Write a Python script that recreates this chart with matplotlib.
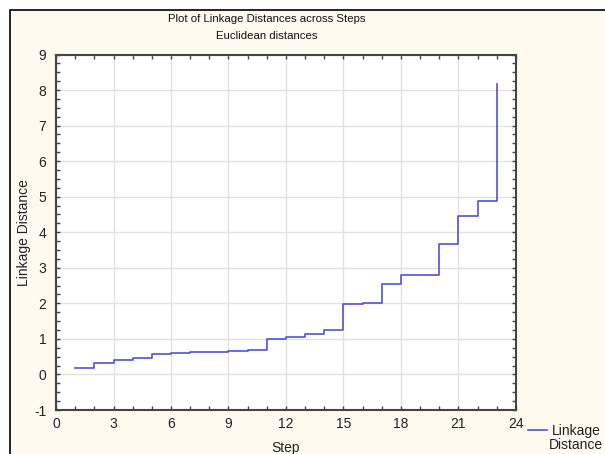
import matplotlib
matplotlib.use('Agg')
import matplotlib.pyplot as plt
from matplotlib.patches import Rectangle
from matplotlib.ticker import MultipleLocator

plt.rcParams['font.family'] = ['Liberation Sans', 'DejaVu Sans']
plt.rcParams['axes.unicode_minus'] = False

# Linkage distance at each amalgamation step
steps = list(range(1, 24))
distances = [0.17, 0.32, 0.41, 0.45, 0.57, 0.60, 0.63, 0.63, 0.66, 0.70,
             0.99, 1.06, 1.13, 1.25, 1.98, 2.00, 2.54, 2.81, 2.81, 3.66,
             4.45, 4.88, 8.16]
x_ticks = [0, 3, 6, 9, 12, 15, 18, 21, 24]
y_ticks = [-1, 0, 1, 2, 3, 4, 5, 6, 7, 8, 9]

fig = plt.figure(figsize=(6.05, 4.54), dpi=100)
fig.patch.set_facecolor('white')

# cream panel with a black frame (cut off at right/bottom)
bg = Rectangle((10 / 605, -0.1), 1.2, 1 - 10 / 454 + 0.1, transform=fig.transFigure,
               facecolor='#fffaf0', edgecolor='black', linewidth=1.2, zorder=-10)
fig.patches.append(bg)

ax = fig.add_axes([56 / 605, 1 - 410 / 454, 460 / 605, 355.5 / 454])
ax.set_facecolor('white')

ax.plot(steps, distances, drawstyle='steps-post', color='#5252d6', linewidth=1.2)

ax.set_xlim(0, 24)
ax.set_ylim(-1, 9)
ax.set_xticks(x_ticks)
ax.set_yticks(y_ticks)
ax.xaxis.set_minor_locator(MultipleLocator(1))
ax.yaxis.set_minor_locator(MultipleLocator(0.25))
ax.grid(True, which='major', color='#e2e2e2', linewidth=1)
ax.set_axisbelow(True)

ax.tick_params(which='both', direction='in', top=True, right=True,
               color='#444444', labelsize=10, labelcolor='#222222')
ax.tick_params(axis='y', pad=7)
ax.tick_params(axis='x', pad=5)
ax.tick_params(which='major', length=3, width=1)
ax.tick_params(which='minor', length=3, width=1)
for s in ax.spines.values():
    s.set_color('#444444')
    s.set_linewidth(1.5)

ax.set_xlabel('Step', fontsize=10, color='#222222')
ax.set_ylabel('Linkage Distance', fontsize=10, color='#222222')
ax.xaxis.set_label_coords(0.5, -0.087)
ax.yaxis.set_label_coords(-0.055, 0.5)

fig.text(267 / 605, 1 - 19 / 454, 'Plot of Linkage Distances across Steps',
         ha='center', va='center', fontsize=8.2, color='#111111')
fig.text(267 / 605, 1 - 36 / 454, 'Euclidean distances',
         ha='center', va='center', fontsize=8.2, color='#111111')

# legend entry drawn outside the axes
fig.add_artist(plt.Line2D([528 / 605, 547 / 605], [1 - 430 / 454, 1 - 430 / 454],
                          color='#5252d6', linewidth=1.2))
fig.text(576 / 605, 1 - 438 / 454, 'Linkage\nDistance', ha='center', va='center',
         fontsize=10, color='#222222', linespacing=1.05)

fig.savefig('out.png', dpi=100, facecolor=fig.get_facecolor())
